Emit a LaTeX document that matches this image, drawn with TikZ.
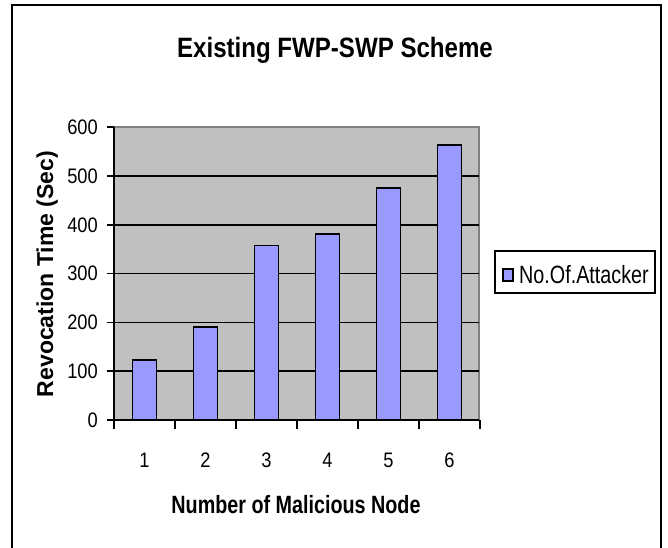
\documentclass[tikz,border=0pt]{standalone}
\usepackage{fontspec}
\usepackage{graphicx}
\setmainfont{Liberation Sans}
\definecolor{plotgray}{HTML}{C0C0C0}
\definecolor{edgegray}{HTML}{808080}
\definecolor{barblue}{HTML}{9999FF}
\tikzset{
  barbox/.style={draw=black, line width=1.5pt, fill=barblue},
  gridln/.style={draw=black, line width=1.5pt},
  axisln/.style={draw=black, line width=2pt},
  ticklab/.style={inner sep=0pt, font=\fontsize{21}{23}\selectfont},
  titletext/.style={inner sep=0pt, font=\bfseries\fontsize{28}{30}\selectfont},
  axtitle/.style={inner sep=0pt, font=\bfseries\fontsize{25}{27}\selectfont},
  legendbox/.style={draw=black, line width=1.5pt, fill=white},
}
\begin{document}
\begin{tikzpicture}[x=1pt, y=-1pt]
\useasboundingbox (0,0) rectangle (668,547);
\fill[white] (0,0) rectangle (668,547);
% outer frame (bottom edge lies outside the picture)
\draw[line width=2.2pt, line cap=rect] (12,549) -- (12,5) -- (661,5) -- (661,549);
% title
\node[titletext, anchor=base] (title) at (335,57) {\scalebox{0.86}[1]{Existing FWP-SWP Scheme}};
% plot area
\fill[plotgray] (114,127) rectangle (479,420);
\draw[edgegray, line width=1.5pt] (114,127) -- (479,127) -- (479,420);
\foreach \v in {1,...,5} {
  \draw[gridln] (114,{420-48.8*\v}) -- (479,{420-48.8*\v});
}
% bars
\foreach \i/\val in {1/123, 2/191, 3/358, 4/381, 5/475, 6/564} {
  \pgfmathsetmacro{\cx}{114+61*(\i-0.5)}
  \draw[barbox] ({\cx-12},420) rectangle ({\cx+12},{420-0.488*\val});
}
% axes
\draw[axisln] (114,127) -- (114,420) -- (479,420);
% y ticks and labels
\foreach \v in {0,...,6} {
  \draw[line width=1.5pt] (107,{420-48.8*\v}) -- (114,{420-48.8*\v});
  \node[ticklab, anchor=east] (yl\v) at (98,{420-48.8*\v}) {\scalebox{0.87}[1]{\the\numexpr\v*100\relax}};
}
% x ticks and labels
\foreach \i in {0,...,6} {
  \draw[line width=1.5pt] ({114+61*\i},420) -- ({114+61*\i},429);
}
\foreach \i in {1,...,6} {
  \node[ticklab, anchor=base] (xl\i) at ({114+61*(\i-0.5)},467) {\scalebox{0.87}[1]{\i}};
}
% axis titles
\node[axtitle, anchor=base] (xtitle) at (296,513) {\scalebox{0.79}[1]{Number of Malicious Node}};
\node[inner sep=0pt, font=\bfseries\fontsize{23}{25}\selectfont, anchor=base, rotate=90] (ytitle) at (53,274) {Revocation Time (Sec)};
% legend
\draw[legendbox] (495,251) rectangle (655,293);
\draw[barbox, line width=1.2pt] (503,269) rectangle (513,281);
\node[inner sep=0pt, anchor=base west, font=\fontsize{25}{27}\selectfont] (legtext) at (519,283) {\scalebox{0.79}[1]{No.Of.Attacker}};
\end{tikzpicture}
\end{document}
